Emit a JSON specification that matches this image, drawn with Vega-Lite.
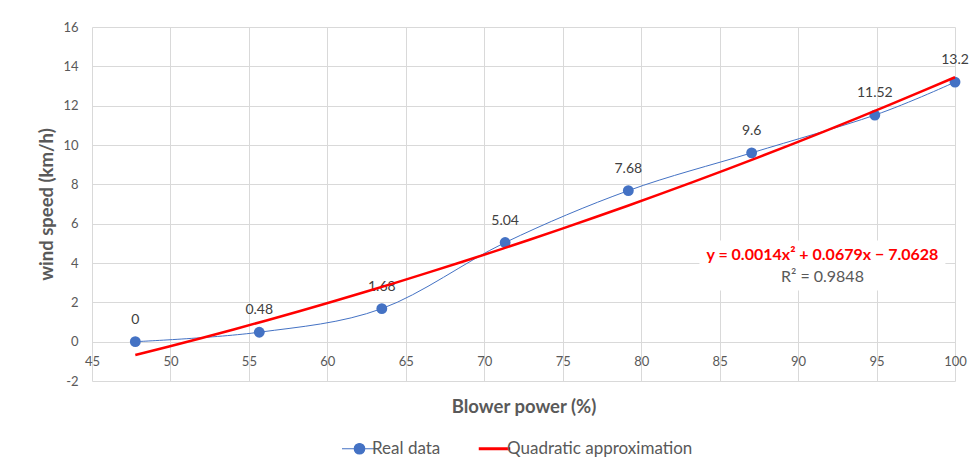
{
  "$schema": "https://vega.github.io/schema/vega-lite/v6.json",
  "width": 863,
  "height": 354,
  "autosize": {"type": "none"},
  "padding": {"left": 92, "top": 27, "right": 21, "bottom": 87},
  "background": "white",
  "config": {
    "font": "Lato",
    "view": {"stroke": null},
    "axis": {
      "gridColor": "#d9d9d9",
      "gridWidth": 1,
      "domain": false,
      "ticks": false,
      "labelColor": "#595959",
      "labelFontSize": 13,
      "labelFont": "Lato",
      "labelOverlap": false,
      "labelFlush": false,
      "titleColor": "#595959",
      "titleFontSize": 18.5,
      "titleFont": "Lato",
      "titleFontWeight": "bold"
    }
  },
  "datasets": {
    "real": [
      {"x": 47.76, "y": 0, "label": "0"},
      {"x": 55.66, "y": 0.48, "label": "0.48"},
      {"x": 63.47, "y": 1.68, "label": "1.68"},
      {"x": 71.33, "y": 5.04, "label": "5.04"},
      {"x": 79.18, "y": 7.68, "label": "7.68"},
      {"x": 87.04, "y": 9.6, "label": "9.6"},
      {"x": 94.89, "y": 11.52, "label": "11.52"},
      {"x": 100, "y": 13.2, "label": "13.2"}
    ],
    "box": [{"x": 91.55, "y": 3.87}],
    "eq": [{"x": 91.55, "y": 4.43, "text": "y = 0.0014x² + 0.0679x − 7.0628"}],
    "r2": [{"x": 91.55, "y": 3.31, "text": "R² = 0.9848"}]
  },
  "layer": [
    {
      "data": {"name": "real"},
      "mark": {"type": "line", "interpolate": "cardinal", "strokeWidth": 1},
      "encoding": {
        "x": {
          "field": "x", "type": "quantitative",
          "scale": {"domain": [45, 100], "nice": false, "zero": false},
          "axis": {"orient": "bottom", "grid": true, "labels": false, "tickCount": 30, "values": [45, 50, 55, 60, 65, 70, 75, 80, 85, 90, 95, 100], "title": "Blower power (%)", "titlePadding": 16}
        },
        "y": {
          "field": "y", "type": "quantitative",
          "scale": {"domain": [-2, 16], "nice": false, "zero": false},
          "axis": {"grid": true, "tickCount": 30, "values": [-2, 0, 2, 4, 6, 8, 10, 12, 14, 16], "labelOverlap": false, "labelFlush": false, "labelExpr": "'' + datum.value", "title": "wind speed (km/h)", "labelPadding": 14, "titlePadding": 6}
        },
        "color": {
          "datum": "Real data",
          "type": "nominal",
          "scale": {"domain": ["Real data", "Quadratic approximation"], "range": ["#4472C4", "#FF0000"]},
          "legend": {
            "title": null,
            "orient": "none",
            "legendX": 259,
            "legendY": 413,
            "direction": "horizontal",
            "labelFontSize": 17,
            "labelColor": "#595959",
            "labelFont": "Lato",
            "labelLimit": 400,
            "symbolSize": 1225,
            "columnPadding": 31,
            "labelOffset": 4,
            "encode": {
              "symbols": {
                "update": {
                  "shape": {"signal": "datum.value === 'Real data' ? 'M-1,0H1M-0.3,0A0.3,0.3,0,1,1,0.3,0A0.3,0.3,0,1,1,-0.3,0Z' : 'M-0.9,0H0.9'"},
                  "strokeWidth": {"signal": "datum.value === 'Real data' ? 1.2 : 3"},
                  "fill": {"signal": "datum.value === 'Real data' ? '#4472C4' : 'transparent'"},
                  "stroke": {"signal": "datum.value === 'Real data' ? '#4472C4' : '#FF0000'"}
                }
              }
            }
          }
        }
      }
    },
    {
      "data": {"name": "real"},
      "mark": {"type": "point", "filled": true, "size": 118, "opacity": 1},
      "encoding": {
        "x": {
          "field": "x", "type": "quantitative",
          "axis": {"orient": "bottom", "offset": -40, "grid": false, "labels": true, "labelFlush": false, "labelPadding": 14, "tickCount": 30, "values": [45, 50, 55, 60, 65, 70, 75, 80, 85, 90, 95, 100], "title": null}
        },
        "y": {"field": "y", "type": "quantitative"},
        "color": {"datum": "Real data", "type": "nominal"}
      }
    },
    {
      "data": {"name": "real"},
      "mark": {"type": "text", "dy": -22, "fontSize": 14, "color": "#404040", "font": "Lato", "baseline": "middle"},
      "encoding": {
        "x": {"field": "x", "type": "quantitative", "axis": null},
        "y": {"field": "y", "type": "quantitative"},
        "text": {"field": "label"}
      }
    },
    {
      "data": {"name": "real"},
      "transform": [{"regression": "y", "on": "x", "method": "poly", "order": 2}],
      "mark": {"type": "line", "strokeWidth": 2.5},
      "encoding": {
        "x": {"field": "x", "type": "quantitative", "axis": null},
        "y": {"field": "y", "type": "quantitative"},
        "color": {"datum": "Quadratic approximation", "type": "nominal"}
      }
    },
    {
      "data": {"name": "box"},
      "mark": {"type": "rect", "width": 246, "height": 50, "color": "white", "opacity": 1},
      "encoding": {
        "x": {"field": "x", "type": "quantitative", "axis": null},
        "y": {"field": "y", "type": "quantitative"}
      }
    },
    {
      "data": {"name": "eq"},
      "mark": {"type": "text", "font": "Lato", "baseline": "middle", "align": "center", "fontWeight": "bold", "fontSize": 16, "color": "#FF0000"},
      "encoding": {
        "x": {"field": "x", "type": "quantitative", "axis": null},
        "y": {"field": "y", "type": "quantitative"},
        "text": {"field": "text"}
      }
    },
    {
      "data": {"name": "r2"},
      "mark": {"type": "text", "font": "Lato", "baseline": "middle", "align": "center", "fontSize": 16, "color": "#595959"},
      "encoding": {
        "x": {"field": "x", "type": "quantitative", "axis": null},
        "y": {"field": "y", "type": "quantitative"},
        "text": {"field": "text"}
      }
    }
  ],
  "resolve": {"axis": {"x": "independent"}}
}
